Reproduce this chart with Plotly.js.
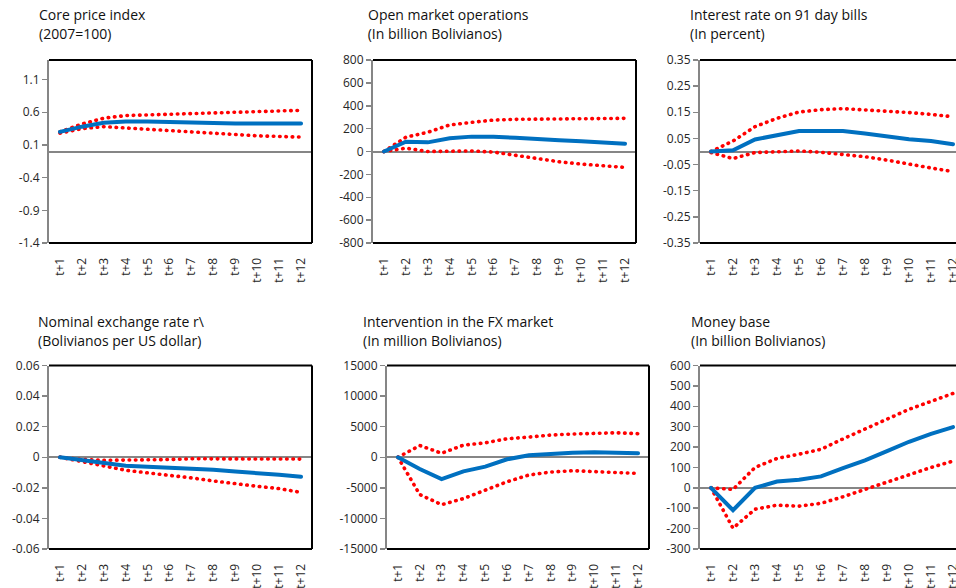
<!DOCTYPE html>
<html>
<head>
<meta charset="utf-8">
<script src="https://cdn.plot.ly/plotly-3.0.1.min.js"></script>
<style>
  html, body { margin: 0; padding: 0; overflow: hidden; background: #fff; }
  #chart { width: 975px; height: 588px; }
  path.js-line { stroke-linecap: round !important; }
</style>
</head>
<body>
<div id="chart"></div>
<script>
// ---------- data ----------
const categories = ['t+1','t+2','t+3','t+4','t+5','t+6','t+7','t+8','t+9','t+10','t+11','t+12'];

const titleLine1 = ['Core price index', 'Open market operations', 'Interest rate on 91 day bills',
                    'Nominal exchange rate r\\', 'Intervention in the FX market', 'Money base'];
const titleLine2 = ['(2007=100)', ' (In billion Bolivianos)', '(In percent)',
                    '(Bolivianos per US dollar)', '(In million Bolivianos)', '(In billion Bolivianos)'];

// Core price index
const coreMid = [0.30, 0.38, 0.44, 0.46, 0.46, 0.45, 0.44, 0.43, 0.43, 0.43, 0.43, 0.43];
const coreHi  = [0.30, 0.42, 0.51, 0.55, 0.56, 0.57, 0.58, 0.59, 0.60, 0.60, 0.61, 0.63];
const coreLo  = [0.28, 0.35, 0.38, 0.36, 0.34, 0.31, 0.29, 0.27, 0.25, 0.24, 0.23, 0.22];

// Open market operations
const omoMid = [0, 85, 80, 115, 130, 130, 120, 105, 98, 90, 80, 68];
const omoHi  = [0, 125, 168, 232, 255, 275, 281, 283, 283, 283, 284, 290];
const omoLo  = [0, 29, 0, 5, 5, -5, -35, -64, -90, -110, -122, -139];

// Interest rate on 91 day bills
const rateMid = [0, 0.005, 0.046, 0.062, 0.078, 0.078, 0.078, 0.069, 0.058, 0.047, 0.040, 0.028];
const rateHi  = [0, 0.040, 0.095, 0.127, 0.151, 0.160, 0.164, 0.160, 0.156, 0.149, 0.142, 0.133];
const rateLo  = [-0.004, -0.027, -0.004, -0.002, 0.002, -0.003, -0.010, -0.020, -0.033, -0.049, -0.063, -0.077];

// Nominal exchange rate
const fxMid = [0, -0.0020, -0.0040, -0.0055, -0.0062, -0.0068, -0.0075, -0.0082, -0.0093, -0.0102, -0.0115, -0.0128];
const fxHi  = [0, -0.0015, -0.0020, -0.0020, -0.0020, -0.0015, -0.0010, -0.0010, -0.0010, -0.0010, -0.0010, -0.0012];
const fxLo  = [0, -0.0030, -0.0060, -0.0085, -0.0102, -0.0117, -0.0135, -0.0155, -0.0175, -0.0190, -0.0205, -0.0230];

// Intervention in the FX market
const intMid = [0, -1920, -3570, -2300, -1540, -330, 330, 600, 750, 820, 800, 660];
const intHi  = [0, 1920, 660, 1980, 2360, 3020, 3300, 3630, 3800, 3960, 4000, 3850];
const intLo  = [0, -6100, -7750, -6760, -5380, -4010, -2900, -2420, -2200, -2300, -2530, -2640];

// Money base
const mbMid = [0, -110, 0, 31, 40, 56, 97, 135, 180, 226, 265, 298];
const mbHi  = [0, -8, 100, 144, 165, 189, 240, 289, 340, 385, 424, 463];
const mbLo  = [0, -198, -105, -85, -90, -76, -44, -8, 29, 65, 100, 131];

// y-axis ticks
const coreTicks = [-1.4, -0.9, -0.4, 0.1, 0.6, 1.1];
const coreTickText = ['-1.4', '-0.9', '-0.4', '0.1', '0.6', '1.1'];
const omoTicks = [-800, -600, -400, -200, 0, 200, 400, 600, 800];
const omoTickText = ['-800', '-600', '-400', '-200', '0', '200', '400', '600', '800'];
const rateTicks = [-0.35, -0.25, -0.15, -0.05, 0.05, 0.15, 0.25, 0.35];
const rateTickText = ['-0.35', '-0.25', '-0.15', '-0.05', '0.05', '0.15', '0.25', '0.35'];
const fxTicks = [-0.06, -0.04, -0.02, 0, 0.02, 0.04, 0.06];
const fxTickText = ['-0.06', '-0.04', '-0.02', '0', '0.02', '0.04', '0.06'];
const intTicks = [-15000, -10000, -5000, 0, 5000, 10000, 15000];
const intTickText = ['-15000', '-10000', '-5000', '0', '5000', '10000', '15000'];
const mbTicks = [-300, -200, -100, 0, 100, 200, 300, 400, 500, 600];
const mbTickText = ['-300', '-200', '-100', '0', '100', '200', '300', '400', '500', '600'];

// ---------- layout helpers ----------
const W = 975, H = 588;
const px = v => v / W;
const py = v => 1 - v / H;

const panels = [
  {mid: coreMid, hi: coreHi, lo: coreLo, tv: coreTicks, tt: coreTickText, range: [-1.4, 1.4],
   xd: [49, 312], yd: [60, 243], t1: [37, 15], t2: [37, 34]},
  {mid: omoMid, hi: omoHi, lo: omoLo, tv: omoTicks, tt: omoTickText, range: [-800, 800],
   xd: [373, 636], yd: [60, 243], t1: [366, 15], t2: [362, 34]},
  {mid: rateMid, hi: rateHi, lo: rateLo, tv: rateTicks, tt: rateTickText, range: [-0.35, 0.35],
   xd: [700, 964], yd: [60, 243], t1: [688, 15], t2: [688, 34]},
  {mid: fxMid, hi: fxHi, lo: fxLo, tv: fxTicks, tt: fxTickText, range: [-0.06, 0.06],
   xd: [49, 312], yd: [365.5, 549], t1: [36, 321], t2: [36, 340]},
  {mid: intMid, hi: intHi, lo: intLo, tv: intTicks, tt: intTickText, range: [-15000, 15000],
   xd: [387, 649], yd: [365.5, 549], t1: [361, 321], t2: [361, 340]},
  {mid: mbMid, hi: mbHi, lo: mbLo, tv: mbTicks, tt: mbTickText, range: [-300, 600],
   xd: [700, 964], yd: [365.5, 549], t1: [689, 321], t2: [689, 340]}
];

const BLUE = '#0070C0', RED = '#FF0000', GRAY = '#868686';
const FONT = 'Open Sans, Noto Sans, sans-serif';

const traces = [];
const layout = {
  width: W, height: H,
  margin: {l: 0, r: 0, t: 0, b: 0},
  paper_bgcolor: '#fff', plot_bgcolor: '#fff',
  showlegend: false,
  font: {family: FONT, size: 12, color: '#262626'},
  annotations: [], shapes: []
};

panels.forEach((p, i) => {
  const n = i === 0 ? '' : String(i + 1);
  const xa = 'x' + n, ya = 'y' + n;
  // bands first, central line on top
  traces.push({x: categories, y: p.hi, xaxis: xa, yaxis: ya, type: 'scatter', mode: 'lines',
               line: {color: RED, width: 3.6, dash: '0.5px,5.8px'}, hoverinfo: 'skip'});
  traces.push({x: categories, y: p.lo, xaxis: xa, yaxis: ya, type: 'scatter', mode: 'lines',
               line: {color: RED, width: 3.6, dash: '0.5px,5.8px'}, hoverinfo: 'skip'});
  traces.push({x: categories, y: p.mid, xaxis: xa, yaxis: ya, type: 'scatter', mode: 'lines',
               line: {color: BLUE, width: 4}, hoverinfo: 'skip'});

  layout['xaxis' + n] = {
    domain: [px(p.xd[0]), px(p.xd[1])], anchor: ya,
    type: 'category', categoryorder: 'array', categoryarray: categories,
    range: [-0.5, 11.5], tickangle: -90, showgrid: false, zeroline: false, showline: false,
    ticks: 'outside', ticklen: 9, tickcolor: 'rgba(0,0,0,0)',
    tickfont: {family: FONT, size: 12, color: '#262626'}, fixedrange: true
  };
  layout['yaxis' + n] = {
    domain: [py(p.yd[1]), py(p.yd[0])], anchor: xa,
    range: p.range, tickmode: 'array', tickvals: p.tv, ticktext: p.tt,
    showgrid: false, zeroline: true, zerolinecolor: GRAY, zerolinewidth: 2,
    showline: true, linecolor: GRAY, linewidth: 2,
    ticks: 'outside', ticklen: 5, tickwidth: 1.5, tickcolor: GRAY,
    tickfont: {family: FONT, size: 12, color: '#262626'}, fixedrange: true
  };

  const xr = xa + ' domain', yr = ya + ' domain';
  const blk = {color: '#000', width: 2};
  layout.shapes.push({type: 'line', xref: xr, yref: yr, x0: 0, x1: 1, y0: 1, y1: 1, line: blk});
  layout.shapes.push({type: 'line', xref: xr, yref: yr, x0: 1, x1: 1, y0: 0, y1: 1, line: blk});
  layout.shapes.push({type: 'line', xref: xr, yref: yr, x0: 0, x1: 1, y0: 0, y1: 0, line: blk});

  layout.annotations.push({text: titleLine1[i], xref: 'paper', yref: 'paper', x: px(p.t1[0]), y: py(p.t1[1]),
    xanchor: 'left', yanchor: 'middle', showarrow: false, font: {family: FONT, size: 14, color: '#111'}});
  layout.annotations.push({text: titleLine2[i], xref: 'paper', yref: 'paper', x: px(p.t2[0]), y: py(p.t2[1]),
    xanchor: 'left', yanchor: 'middle', showarrow: false, font: {family: FONT, size: 14, color: '#111'}});
});

Plotly.newPlot('chart', traces, layout, {staticPlot: true, displayModeBar: false});
</script>
</body>
</html>
